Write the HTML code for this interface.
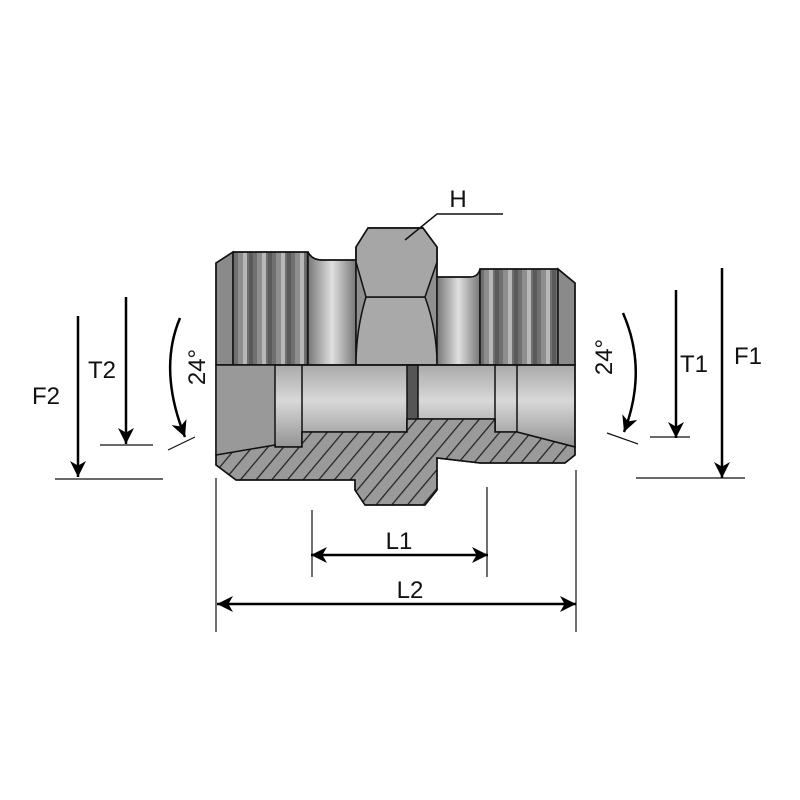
<!DOCTYPE html>
<html><head><meta charset="utf-8"><style>html,body{margin:0;padding:0;background:#fff}svg{display:block}</style></head><body>
<svg width="800" height="800" viewBox="0 0 800 800" xmlns="http://www.w3.org/2000/svg" font-family="Liberation Sans, sans-serif">
<defs>
<pattern id="stripe" width="19" height="10" patternUnits="userSpaceOnUse" x="236">
<rect width="19" height="10" fill="#707070"/>
<rect x="2" width="5" height="10" fill="#8e8e8e"/>
<rect x="7" width="4" height="10" fill="#b8b8b8"/>
<rect x="13" width="4" height="10" fill="#5a5a5a"/>
</pattern>
<pattern id="stripe2" width="19" height="10" patternUnits="userSpaceOnUse" x="482">
<rect width="19" height="10" fill="#707070"/>
<rect x="2" width="5" height="10" fill="#8e8e8e"/>
<rect x="7" width="4" height="10" fill="#b8b8b8"/>
<rect x="13" width="4" height="10" fill="#5a5a5a"/>
</pattern>
<linearGradient id="cyl" x1="0" y1="0" x2="1" y2="0">
<stop offset="0" stop-color="#777"/><stop offset="0.5" stop-color="#e0e0e0"/><stop offset="1" stop-color="#777"/>
</linearGradient>
<linearGradient id="bore" x1="0" y1="0" x2="0" y2="1">
<stop offset="0" stop-color="#aaa"/><stop offset="0.4" stop-color="#d8d8d8"/><stop offset="1" stop-color="#888"/>
</linearGradient>
<pattern id="hatch" width="12" height="12" patternUnits="userSpaceOnUse" patternTransform="rotate(40)">
<rect width="12" height="12" fill="#9a9a9a"/>
<line x1="0" y1="0" x2="0" y2="12" stroke="#222" stroke-width="2.5"/>
</pattern>
<marker id="ar" markerWidth="16" markerHeight="16" refX="14" refY="7" orient="auto" markerUnits="userSpaceOnUse" viewBox="0 0 14 14">
<path d="M0,0 L14,7 L0,14 L4,7z" fill="#000"/>
</marker>
</defs>
<g stroke="#111" stroke-width="1.5">
<path d="M216,263 L233,252 L233,365 L216,365z" fill="#8a8a8a"/>
<rect x="233" y="252" width="75" height="113" fill="url(#stripe)"/>
<path d="M308,252 Q312,260 322,260 L356,260 L356,365 L308,365z" fill="url(#cyl)"/>
<path d="M356,247 L368,228 L423,228 L437,247 L437,365 L356,365z" fill="#8f8f8f"/>
<path d="M366,297 L425,297 Q437,330 437,365 L356,365 Q356,330 366,297z" fill="#a9a9a9"/>
<path d="M356,247 L368,228 L423,228 L437,247 L437,262 L425,297 L366,297 L356,262z" fill="#a6a6a6"/>
<path d="M437,277 L470,277 Q478,277 480,269 L480,365 L437,365z" fill="url(#cyl)"/>
<rect x="480" y="269" width="78" height="96" fill="url(#stripe2)"/>
<path d="M558,269 L575,283 L575,365 L558,365z" fill="#8a8a8a"/>
<path d="M216,365 L575,365 L575,447 L517,432 L495,432 L495,419 L407,419 L407,432 L302,432 L302,447 L275,447 L275,445 L216,455z" fill="url(#bore)"/>
<rect x="216" y="365" width="59" height="90" fill="#999" stroke="none"/>
<line x1="275" y1="365" x2="275" y2="447"/>
<line x1="302" y1="365" x2="302" y2="447"/>
<rect x="407" y="365" width="11" height="67" fill="#555"/>
<line x1="495" y1="365" x2="495" y2="432"/>
<line x1="517" y1="365" x2="517" y2="432"/>
<path d="M216,455 L275,445 L275,447 L302,447 L302,432 L407,432 L407,419 L495,419 L495,432 L517,432 L575,447 L575,455 L565,463 L480,463 L437,458 L437,490 L425,505 L365,505 L355,490 L355,480 L236,480 L216,465z" fill="url(#hatch)"/>
<path d="M216,263 L233,252 L308,252 Q312,260 322,260 L356,260 L356,247 L368,228 L423,228 L437,247 L437,277 L470,277 Q478,277 480,269 L558,269 L575,283 L575,455 L565,463 L480,463 L437,458 L437,490 L425,505 L365,505 L355,490 L355,480 L236,480 L216,465z" fill="none"/>
<line x1="216" y1="365" x2="575" y2="365"/>
</g>
<polyline points="405,240 437,214 503,214" fill="none" stroke="#111" stroke-width="1.5"/>
<text x="458" y="207" font-size="24" fill="#111" text-anchor="middle">H</text>
<g stroke="#111" stroke-width="1.2" fill="none">
<line x1="216" y1="478" x2="216" y2="632"/>
<line x1="576" y1="470" x2="576" y2="632"/>
<line x1="312" y1="510" x2="312" y2="577"/>
<line x1="487" y1="487" x2="487" y2="577"/>
<line x1="55" y1="479" x2="163" y2="479"/>
<line x1="100" y1="445" x2="153" y2="445"/>
<line x1="650" y1="437" x2="690" y2="437"/>
<line x1="636" y1="478" x2="745" y2="478"/>
<line x1="168" y1="450" x2="195" y2="437"/>
<line x1="607" y1="433" x2="638" y2="444"/>
</g>
<g stroke="#000" stroke-width="2.5" fill="none" marker-end="url(#ar)">
<line x1="78" y1="316" x2="78" y2="477"/>
<line x1="126" y1="297" x2="126" y2="444"/>
<line x1="676" y1="290" x2="676" y2="438"/>
<line x1="722" y1="268" x2="722" y2="478"/>
<path d="M180,318 Q158,370 185,437"/>
<path d="M623,313 Q648,370 624,432"/>
<line x1="400" y1="555" x2="488" y2="555"/>
<line x1="400" y1="555" x2="311" y2="555"/>
<line x1="400" y1="604" x2="576" y2="604"/>
<line x1="400" y1="604" x2="217" y2="604"/>
</g>
<g font-size="24" fill="#111">
<text x="32" y="404">F2</text>
<text x="88" y="378">T2</text>
<text x="680" y="372">T1</text>
<text x="734" y="364">F1</text>
<text x="399" y="549" text-anchor="middle">L1</text>
<text x="410" y="598" text-anchor="middle">L2</text>
<text transform="translate(205,367) rotate(-90)" text-anchor="middle">24°</text>
<text transform="translate(612,357) rotate(-90)" text-anchor="middle">24°</text>
</g>
</svg>
</body></html>
